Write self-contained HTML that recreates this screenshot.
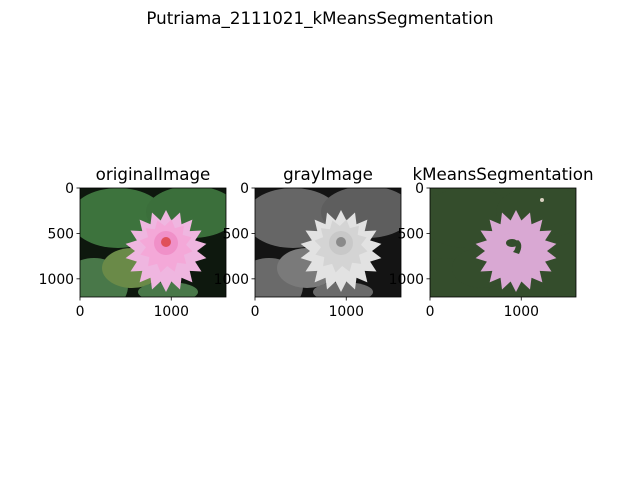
<!DOCTYPE html>
<html><head><meta charset="utf-8"><style>
html,body{margin:0;padding:0;background:#fff;}
svg{display:block;font-family:"DejaVu Sans","Liberation Sans",sans-serif;}
</style></head><body>
<svg id="fig" width="640" height="480" viewBox="0 0 640 480">
<rect width="640" height="480" fill="#fff"/>
<text x="320" y="24" font-size="16.7" text-anchor="middle">Putriama_2111021_kMeansSegmentation</text>
</svg>
<script>
const panelTitles = ["originalImage","grayImage","kMeansSegmentation"];
const panelLeft = [80,255,430];
const imgW = 1600, imgH = 1200;
const yTicks = [0,500,1000];
const xTicks = [0,1000];
const svg = document.getElementById('fig');
const NS = 'http://www.w3.org/2000/svg';
const top0 = 188, pw = 146, ph = 109;
function mk(tag, attrs, parent){const e=document.createElementNS(NS,tag);for(const k in attrs)e.setAttribute(k,attrs[k]);(parent||svg).appendChild(e);return e;}
function star(cx,cy,ro,ri,n,rot){let p=[];for(let i=0;i<2*n;i++){const a=rot+Math.PI*i/n;const r=i%2?ri:ro;p.push((cx+r*Math.cos(a)).toFixed(1)+','+(cy+r*Math.sin(a)).toFixed(1));}return p.join(' ');}
const palettes = [
 {bg:'#0e180e',l1:'#3d733d',l2:'#3b6f3b',l3:'#6a8a48',l4:'#497849',p1:'#efb6e0',p2:'#f090c8',p3:'#e0505a'},
 {bg:'#141414',l1:'#666',l2:'#5e5e5e',l3:'#7a7a7a',l4:'#6a6a6a',p1:'#e2e2e2',p2:'#c8c8c8',p3:'#8a8a8a'},
 {bg:'#344d2c',l1:'#344d2c',l2:'#344d2c',l3:'#344d2c',l4:'#344d2c',p1:'#d9a8d3',p2:'#d9a8d3',p3:'#344d2c'}
];
panelTitles.forEach((t,i)=>{
  const x0 = panelLeft[i], c = palettes[i];
  const tt = mk('text',{x:x0+pw/2,y:180,'font-size':'16.7','text-anchor':'middle'});
  tt.textContent = t;
  
  
  const g = mk('g',{transform:`translate(${x0},${top0})`});
  
  
  const cp = mk('clipPath',{id:'cp'+i},g); mk('rect',{width:pw,height:ph},cp);
  const ig = mk('g',{'clip-path':`url(#cp${i})`},g);
  mk('rect',{width:pw,height:ph,fill:c.bg},ig);
  mk('ellipse',{cx:38,cy:30,rx:48,ry:30,fill:c.l1},ig);
  mk('ellipse',{cx:112,cy:24,rx:46,ry:26,fill:c.l2},ig);
  mk('ellipse',{cx:14,cy:98,rx:34,ry:28,fill:c.l4},ig);
  mk('ellipse',{cx:52,cy:80,rx:30,ry:20,fill:c.l3},ig);
  mk('ellipse',{cx:88,cy:104,rx:30,ry:10,fill:c.l4},ig);
  mk('polygon',{points:star(86,63,41,31,18,-Math.PI/2),fill:c.p1},ig);
  if(i<2){
    mk('polygon',{points:star(86,58,27,20,12,-Math.PI/2+0.2),fill:i==0?'#f4a8d8':'#d4d4d4'},ig);
    mk('circle',{cx:86,cy:55,r:12,fill:c.p2},ig);
    mk('circle',{cx:86,cy:54,r:5,fill:c.p3},ig);
  } else {
    mk('ellipse',{cx:82,cy:55,rx:6,ry:4,fill:c.p3},ig);
    mk('path',{d:'M88 52 q6 4 1 14 l-6 -2 q4 -4 2 -10z',fill:c.p3},ig);
    mk('circle',{cx:112,cy:12,r:2,fill:'#d9d0c0'},ig);
  }
  mk('rect',{x:0,y:0,width:pw,height:ph,fill:'none',stroke:'#000','stroke-width':0.8},g);
  yTicks.forEach(v=>{
    const y = top0 + v/imgH*ph;
    mk('line',{x1:x0-3.5,x2:x0,y1:y,y2:y,stroke:'#000','stroke-width':0.8});
    const tl = mk('text',{x:x0-6,y:y+5,'font-size':'13.9','text-anchor':'end'});
    tl.textContent = v;
    
    
  });
  xTicks.forEach(v=>{
    const x = x0 + v/imgW*pw;
    mk('line',{x1:x,x2:x,y1:top0+ph,y2:top0+ph+3.5,stroke:'#000','stroke-width':0.8});
    const tl = mk('text',{x:x,y:top0+ph+19,'font-size':'13.9','text-anchor':'middle'});
    tl.textContent = v;
    
    
  });
});
</script>
</body></html>
